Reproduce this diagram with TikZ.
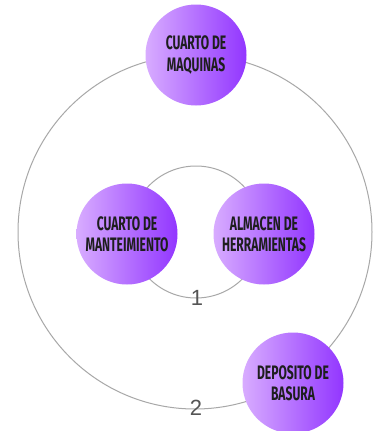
\documentclass[tikz,border=0pt]{standalone}
\usepackage{fontspec}
\setmainfont{Fira Sans}
\newfontfamily\labfont[FakeStretch=0.62]{Fira Sans Bold}
\newfontfamily\numfont{Liberation Sans}
\definecolor{lightp}{HTML}{D8ACFF}
\definecolor{darkp}{HTML}{9236FF}
\definecolor{ringgray}{HTML}{A8A8A8}
\definecolor{txt}{HTML}{1E1E1E}
\definecolor{numgray}{HTML}{555555}
\tikzset{
  place/.style={circle, minimum size=101pt, inner sep=0pt, left color=lightp, right color=darkp, draw=none,
    text=txt, font=\labfont\fontsize{19.5}{21.5}\selectfont, align=center},
  ring/.style={draw=ringgray, line width=1pt},
  numlab/.style={font=\numfont\fontsize{22}{22}\selectfont, text=numgray, inner sep=0pt}
}
\begin{document}
\begin{tikzpicture}[x=1pt,y=-1pt]
\useasboundingbox (0,0) rectangle (373,431);
\fill[white] (0,0) rectangle (373,431);
\coordinate (c) at (195,232);
\draw[ring] (c) circle[radius=177];
\draw[ring] (196,232) circle[radius=66];
\node[numlab] (n1) at (197,298) {1};
\node[numlab] (n2) at (196,408) {2};
\node[place] (maq) at (196,55) {CUARTO DE\\MAQUINAS};
\node[place] (man) at (127,234) {CUARTO DE\\MANTEIMIENTO};
\node[place] (alm) at (264,234) {ALMACEN DE\\HERRAMIENTAS};
\node[place] (bas) at (293,383) {DEPOSITO DE\\BASURA};
\end{tikzpicture}
\end{document}
